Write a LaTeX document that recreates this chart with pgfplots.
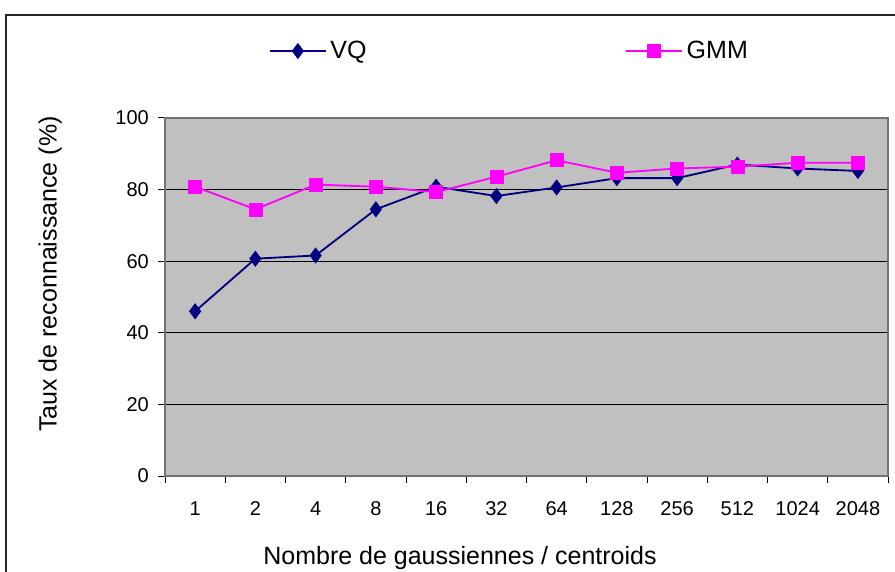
\documentclass[border=0pt]{standalone}
\usepackage{fontspec}
\setmainfont{Liberation Sans}
\usepackage{pgfplots}
\pgfplotsset{compat=1.18}
\definecolor{vq}{RGB}{0,0,128}
\definecolor{gmm}{RGB}{255,0,255}
\definecolor{bg}{RGB}{192,192,192}
\begin{document}
\begin{tikzpicture}
\useasboundingbox (0pt,0pt) rectangle (537pt,342.6pt);
\draw[line width=1.2pt, black!85] (3.6pt,333.6pt) rectangle (545pt,-10pt);
\begin{axis}[
  at={(99pt,57pt)}, anchor=south west,
  width=433.8pt, height=214.8pt, scale only axis,
  xmin=0.5, xmax=12.5, ymin=0, ymax=100,
  axis background/.style={fill=bg},
  axis line style={black!55, line width=1.1pt},
  tick pos=left,
  xtick={0.5,1.5,...,12.5}, xticklabels={,,,,,,,,,,,,,},
  extra x ticks={1,2,...,12},
  extra x tick labels={1,2,4,8,16,32,64,128,256,512,1024,2048},
  extra x tick style={major tick length=0pt},
  ytick={0,20,...,100},
  tick align=outside, major tick length=4.2pt,
  tick style={black, line width=0.6pt},
  ymajorgrids, grid style={black, line width=0.6pt},
  x tick label style={font=\fontsize{12}{14}\selectfont, yshift=-12pt},
  y tick label style={font=\fontsize{12}{14}\selectfont, xshift=-2pt},
  /pgf/number format/assume math mode=true,
  xlabel={Nombre de gaussiennes / centroids},
  ylabel={Taux de reconnaissance (\%)},
  label style={font=\fontsize{15}{18}\selectfont},
  xlabel style={at={(axis description cs:0.408,-0.228)}, anchor=center},
  ylabel style={at={(axis description cs:-0.159,0.564)}, anchor=center, rotate=0},
  legend columns=2,
  legend style={at={(0.477,1.187)}, anchor=center, draw=none, fill=none,
    font=\fontsize{15}{18}\selectfont,
    /tikz/every even column/.append style={column sep=153pt}},
  legend image code/.code={\draw[mark repeat=2,mark phase=2,#1] plot coordinates {(0pt,0pt) (17pt,0pt) (34pt,0pt)};},
]
\addplot[color=vq, line width=1.1pt, mark=diamond*, mark size=4.6pt, mark options={fill=vq, draw=vq, line width=0.3pt}]
coordinates {(1,46) (2,60.7) (3,61.6) (4,74.5) (5,80.8) (6,78.2) (7,80.6) (8,83.2) (9,83.2) (10,87) (11,85.9) (12,85.2)};
\addlegendentry{VQ}
\addplot[color=gmm, line width=1.1pt, mark=square*, mark size=3.9pt, mark options={fill=gmm, draw=gmm, line width=0.3pt}]
coordinates {(1,80.8) (2,74.5) (3,81.4) (4,80.8) (5,79.3) (6,83.6) (7,88.2) (8,84.7) (9,85.9) (10,86.4) (11,87.5) (12,87.5)};
\addlegendentry{GMM}
\end{axis}
\end{tikzpicture}
\end{document}
